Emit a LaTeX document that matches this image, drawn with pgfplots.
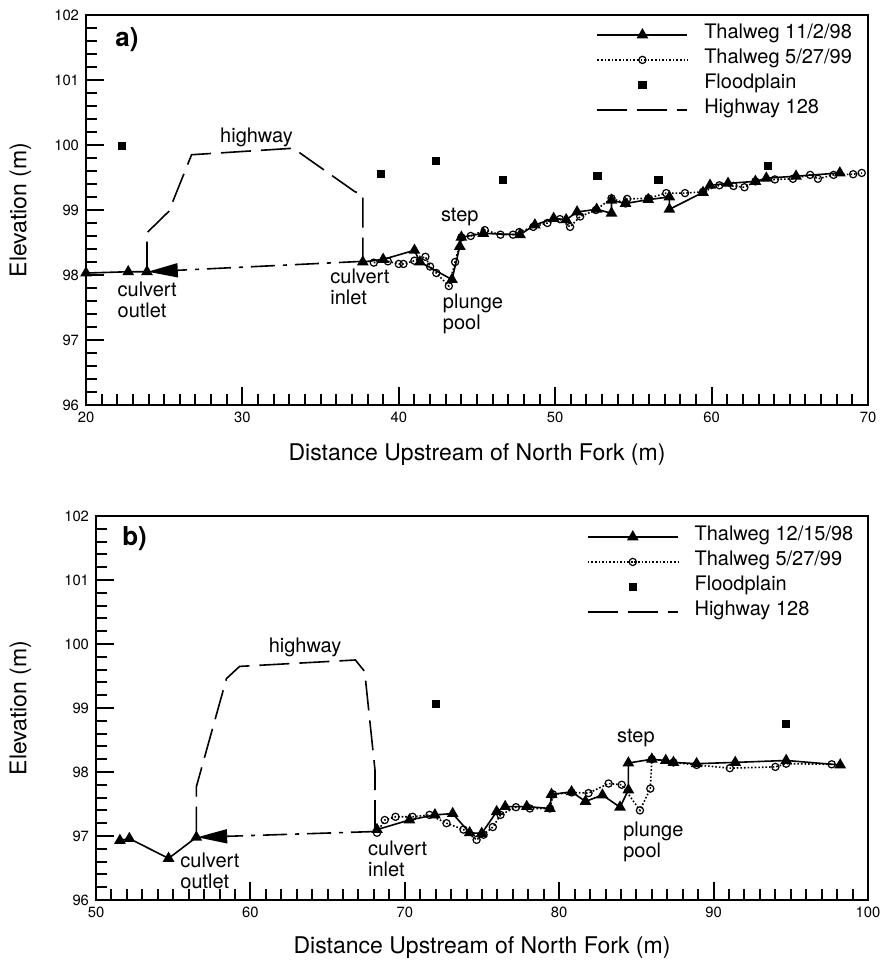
\documentclass[border=0pt]{standalone}
\usepackage{fontspec}
\setmainfont{TeX Gyre Heros}
\usepackage{pgfplots}
\pgfplotsset{compat=1.18}
\usetikzlibrary{arrows.meta}

\tikzset{lab/.style={font=\fontsize{10bp}{10.5bp}\selectfont, align=left, inner sep=0pt}}

\pgfplotsset{
  panel/.style={
    scale only axis,
    axis line style={line width=1.2bp},
    xtick pos=bottom, ytick pos=left, tick align=inside,
    major tick length=9bp,
    ytick style={black, line width=1bp},
    xtick style={black, line width=1bp},
    ymin=96, ymax=102, ytick={96,...,102},
    minor y tick num=4,
    minor x tick num=9,
    minor tick length=5.5bp,
    /pgf/number format/assume math mode=true,
    ticklabel style={font=\fontsize{7.4bp}{8bp}\selectfont},
    label style={font=\fontsize{11.5bp}{13bp}\selectfont},
    legend style={draw=none, fill=none, inner sep=0pt, outer sep=0pt,
      anchor=north west, font=\fontsize{10bp}{11bp}\selectfont,
      row sep=0pt, column sep=8bp,
      nodes={inner sep=0pt, text height=8bp, text depth=4.5bp}},
    legend cell align=left,
    legend image code/.code={\draw[mark repeat=2,mark phase=2,##1]
      plot coordinates {(0bp,0bp) (22.5bp,0bp) (45bp,0bp)};},
    xlabel={Distance Upstream of North Fork (m)},
    ylabel={Elevation (m)},
    unbounded coords=jump,
  },
  thal1/.style={black, line width=0.8bp, mark=triangle*, mark size=2.6bp, mark options={solid}},
  thal2/.style={black, line width=0.8bp, densely dotted, mark=o, mark size=1.8bp,
    mark options={solid, line width=0.6bp}},
  flood/.style={only marks, mark=square*, mark size=1.8bp, black},
  hwy/.style={black, line width=0.8bp, dash pattern=on 15bp off 5bp},
  culv/.style={black, line width=0.8bp, dash pattern=on 12bp off 4bp on 2bp off 4bp,
    -{Triangle[length=15bp,width=7bp]}},
}

\begin{document}
\begin{tikzpicture}
\useasboundingbox (0,0) rectangle (440bp,480bp);

% panel a
\begin{axis}[panel,
  at={(43bp,277.5bp)}, anchor=south west,
  width=391bp, height=195bp,
  xmin=20, xmax=70, xtick={20,30,...,70},
  xlabel style={at={(axis description cs:0.5,-0.128)}, anchor=center},
  ylabel style={at={(axis description cs:-0.084,0.5)}, anchor=center},
  legend style={at={(axis description cs:0.653,0.981)}},
]
\addplot[thal1] coordinates {
  (20,98.03) (22.7,98.05) (23.9,98.05) (30,nan)
  (37.7,98.20) (39.0,98.24) (41.0,98.38) (41.35,98.2) (43.4,97.93) (43.9,98.44)
  (44.0,98.58) (45.4,98.64) (47.75,98.62) (48.7,98.77) (49.9,98.87) (50.7,98.85)
  (51.4,98.97) (52.65,99.01) (53.6,98.95) (53.6,99.15) (54.5,99.1) (55.95,99.16)
  (57.3,99.2) (57.3,99.01) (59.45,99.27) (59.9,99.38) (61.05,99.41) (62.8,99.44)
  (63.5,99.49) (65.4,99.52) (68.2,99.57)
};
\addlegendentry{Thalweg 11/2/98}
\addplot[thal2] coordinates {
  (38.4,98.19) (39.3,98.21) (40.0,98.17) (40.3,98.17) (41.0,98.22) (41.7,98.28)
  (42.0,98.13) (42.4,98.03) (43.2,97.83) (43.6,98.2) (44.0,98.58) (44.6,98.6)
  (45.5,98.69) (46.5,98.62) (47.3,98.62) (47.7,98.66) (48.6,98.74) (49.5,98.8)
  (50.3,98.86) (50.95,98.74) (51.6,98.9) (52.6,99.0) (53.6,99.18) (54.5,99.1)
  (54.6,99.17) (55.96,99.18) (57.1,99.26) (58.3,99.26) (59.45,99.28) (60.5,99.38)
  (61.4,99.37) (62.1,99.35) (62.8,99.44) (64.05,99.47) (65.2,99.48) (66.3,99.54)
  (66.8,99.48) (67.8,99.54) (69.05,99.55) (69.6,99.57)
};
\addlegendentry{Thalweg 5/27/99}
\addplot[flood] coordinates {
  (22.3,99.98) (38.85,99.56) (42.35,99.75) (46.65,99.46) (52.7,99.52)
  (56.6,99.46) (63.6,99.68)
};
\addlegendentry{Floodplain}
\addplot[hwy] coordinates {
  (23.9,98.05) (23.9,98.65) (25.3,98.98) (26.75,99.85) (33.25,99.95)
  (37.2,99.28) (37.7,99.25) (37.7,98.2)
};
\addlegendentry{Highway 128}
\addplot[culv, forget plot] coordinates {(37.7,98.21) (23.95,98.05)};

\node[lab, anchor=west, font=\fontsize{13bp}{14bp}\bfseries] at (axis cs:21.85,101.62) {a)};
\node[lab, anchor=center] at (axis cs:30.9,100.12) {highway};
\node[lab, anchor=west] at (axis cs:22.0,97.62) {culvert\\outlet};
\node[lab, anchor=west] at (axis cs:35.6,97.82) {culvert\\inlet};
\node[lab, anchor=center] at (axis cs:43.9,98.89) {step};
\node[lab, anchor=west] at (axis cs:42.8,97.4) {plunge\\pool};
\end{axis}

% panel b
\begin{axis}[panel,
  at={(48bp,30bp)}, anchor=south west,
  width=386bp, height=192bp,
  xmin=50, xmax=100, xtick={50,60,...,100},
  xlabel style={at={(axis description cs:0.5,-0.125)}, anchor=center},
  ylabel style={at={(axis description cs:-0.098,0.5)}, anchor=center},
  legend style={at={(axis description cs:0.636,0.978)}},
]
\addplot[thal1] coordinates {
  (51.55,96.93) (52.16,96.96) (54.7,96.65) (56.5,96.98) (60,nan)
  (68.2,97.1) (70.3,97.25) (71.95,97.33) (73.1,97.35) (74.2,97.05) (74.98,97.04)
  (75.95,97.38) (76.5,97.46) (77.9,97.46) (79.4,97.43) (79.5,97.65) (80.8,97.69)
  (81.7,97.54) (82.8,97.64) (83.94,97.45) (84.48,97.72) (84.48,98.14) (86.0,98.2)
  (86.9,98.18) (87.4,98.15) (88.9,98.13) (91.4,98.15) (94.7,98.18) (98.2,98.11)
};
\addlegendentry{Thalweg 12/15/98}
\addplot[thal2] coordinates {
  (68.2,97.05) (68.7,97.25) (69.4,97.3) (70.5,97.3) (71.6,97.33) (72.7,97.2)
  (73.8,97.1) (74.65,96.94) (75.1,97.02) (75.7,97.14) (76.2,97.33) (77.2,97.45)
  (78.1,97.43) (79.4,97.43) (79.6,97.65) (80.8,97.68) (81.9,97.67) (83.2,97.82)
  (84.05,97.8) (85.23,97.4) (85.9,97.74) (86.0,98.2) (87.4,98.15)
  (88.9,98.11) (91.05,98.06) (94.0,98.08) (94.7,98.13) (97.65,98.12)
};
\addlegendentry{Thalweg 5/27/99}
\addplot[flood] coordinates {(72.0,99.06) (94.7,98.75)};
\addlegendentry{Floodplain}
\addplot[hwy] coordinates {
  (56.5,96.99) (56.5,97.77) (58.45,99.46) (59.3,99.65) (66.8,99.75)
  (67.4,99.57) (68.07,98.03) (68.07,97.1)
};
\addlegendentry{Highway 128}
\addplot[culv, forget plot] coordinates {(68.07,97.07) (56.55,96.98)};

\node[lab, anchor=west, font=\fontsize{13bp}{14bp}\bfseries] at (axis cs:51.68,101.65) {b)};
\node[lab, anchor=center] at (axis cs:63.54,99.94) {highway};
\node[lab, anchor=west] at (axis cs:55.44,96.45) {culvert\\outlet};
\node[lab, anchor=west] at (axis cs:67.6,96.65) {culvert\\inlet};
\node[lab, anchor=center] at (axis cs:84.97,98.53) {step};
\node[lab, anchor=west] at (axis cs:84.13,96.91) {plunge\\pool};
\end{axis}
\end{tikzpicture}
\end{document}
